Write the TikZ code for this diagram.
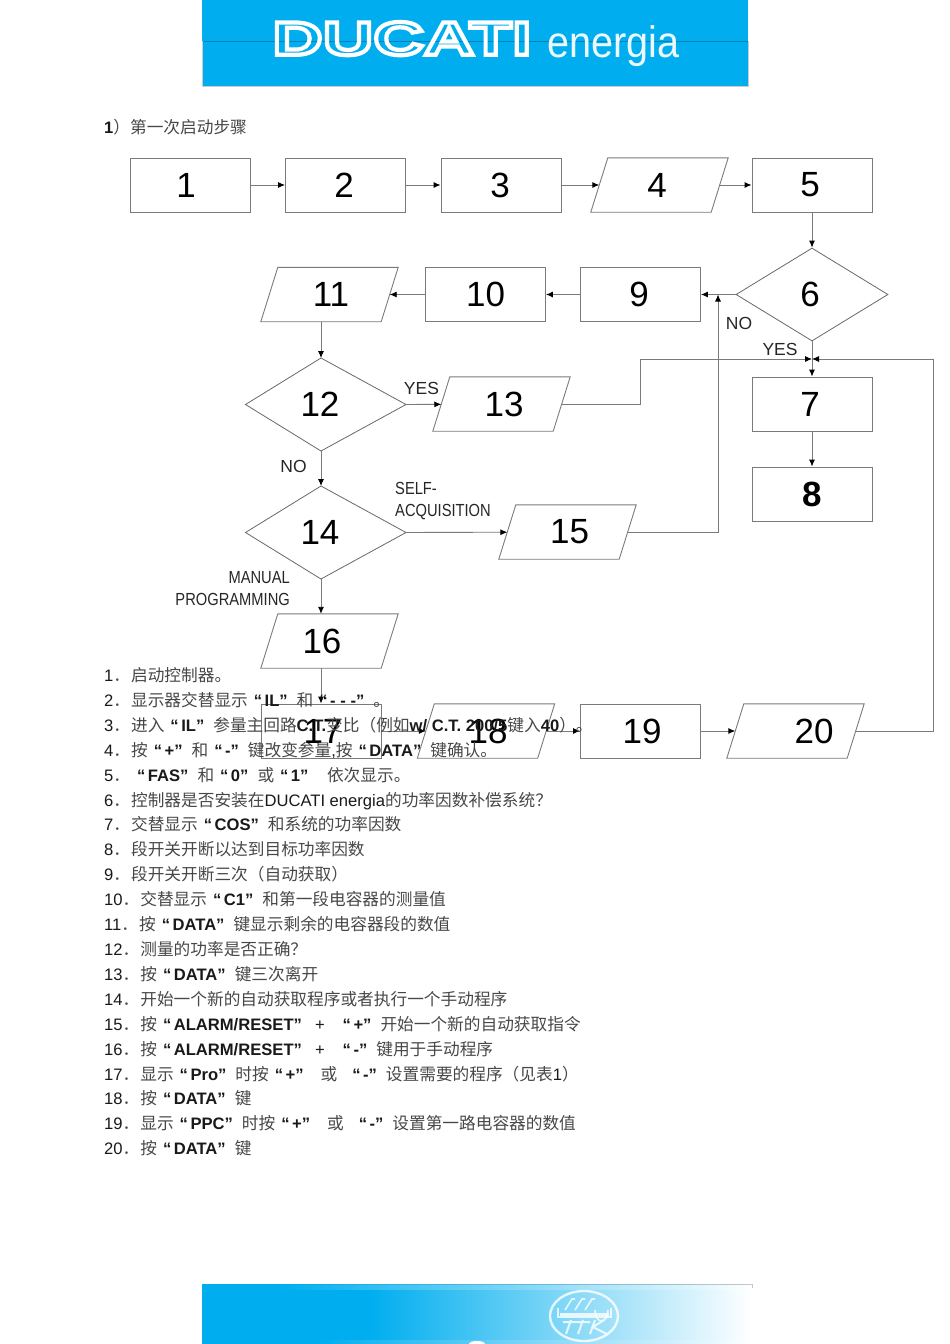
\documentclass[tikz,border=0pt]{standalone}
\usepackage{fontspec}
\usetikzlibrary{shapes.geometric,arrows.meta}
\setmainfont{Liberation Sans}
\newfontfamily\cjk{Noto Sans CJK SC}[Scale=1.005]
\newfontfamily\lgbold[FakeStretch=1.49]{Liberation Sans Bold}
\newfontfamily\lgreg[FakeStretch=0.9]{Liberation Sans}
\newfontfamily\nar[FakeStretch=0.84]{Liberation Sans}
\definecolor{duc}{HTML}{00AEEF}
\definecolor{ln}{HTML}{7A7A7A}
\newcommand{\C}[1]{{\cjk\color{black!72}#1}}
\newcommand{\B}[1]{\textbf{#1}}
\newcommand{\Q}[1]{\hspace{6pt}\textbf{“}\hspace{2.5pt}\textbf{#1”}\hspace{9pt}}
\newcommand{\N}[1]{#1\C{．}\hspace{1pt}}
\newcommand{\dg}[2]{\makebox[0pt]{\hspace*{#1}#2}}
\tikzset{
 x=1pt,y=-1pt,
 boxs/.style={draw=ln,line width=.9pt,minimum width=120pt,minimum height=54pt,inner sep=0pt,font=\fontsize{35}{35}\selectfont},
 para/.style={minimum width=120pt,minimum height=54pt,inner sep=0pt,font=\fontsize{35}{35}\selectfont,
  append after command={\pgfextra{\draw[draw=ln,line width=.9pt] ([xshift=-8.5pt]\tikzlastnode.south west) -- ([xshift=8.5pt]\tikzlastnode.north west) -- ([xshift=8.5pt]\tikzlastnode.north east) -- ([xshift=-8.5pt]\tikzlastnode.south east) -- cycle;}}},
 dia/.style={draw=ln!85!black,line width=.8pt,diamond,minimum width=152pt,minimum height=93pt,inner sep=0pt,font=\fontsize{35}{35}\selectfont},
 diaedge/.style={draw=ln!85!black,line width=.8pt},
 dtext/.style={inner sep=0pt,font=\fontsize{35}{35}\selectfont},
 con/.style={draw=ln,line width=.9pt,-{Latex[black,length=7pt,width=6pt]}},
 lab/.style={inner sep=0pt,text=black!85,font=\fontsize{17.5}{18}\selectfont},
 item/.style={anchor=base west,inner sep=0pt,font=\fontsize{16.6}{16.6}\selectfont,text=black!90},
}
\begin{document}
\begin{tikzpicture}
\useasboundingbox (0,0) rectangle (950,1344);
% header
\fill[duc] (202,0) rectangle (748,86);
\draw[black!25!duc,line width=.5pt] (202,41) -- (748,41);
\draw[black!20!white,line width=1pt] (202.5,41) -- (202.5,86) -- (748,86) -- (748,41);
\node[anchor=base west,inner sep=0,text=white] (logo) at (272,54.8) {\lgbold\fontsize{47}{47}\selectfont\special{pdf:code q 1 Tr 4.2 w 1 1 1 RG}DUCATI\special{pdf:code Q}};
\node[anchor=base west,inner sep=0,text=white!92!duc] (en) at (547,57) {\lgreg\fontsize{44}{44}\selectfont energia};
% footer
\fill[duc] (202,1284) rectangle (370,1344);
\shade[left color=duc,right color=white] (370,1284) rectangle (752,1344);
\shade[left color=duc,right color=black!22] (300,1284) rectangle (752,1285.5);
\shade[left color=duc,right color=white] (280,1285.5) rectangle (752,1289);
\shade[left color=duc,right color=white] (320,1340) rectangle (752,1344);
\draw[black!22,line width=.8pt] (752,1284) -- (752,1288);
\begin{scope}[white,opacity=.8,line width=2.4pt]
\draw (584,1316) ellipse (34 and 25);
\draw[line width=1.6pt] (558,1308) -- (558,1317) -- (611,1317) -- (611,1308);
\draw[line width=3pt] (560,1314) -- (609,1314);
\draw[line width=1.6pt] (565,1310) -- (572,1299) -- (575,1299) (575,1310) -- (582,1299) -- (585,1299) (585,1310) -- (592,1299) -- (595,1299) (595,1310) arc (180:0:6.5 and 11);
\draw[line width=2pt] (571,1320)--(566,1334) (563,1322)--(578,1322) (583,1320)--(578,1334) (575,1322)--(590,1322) (595,1320)--(590,1334) (604,1320)--(593,1327)--(607,1334);
\end{scope}
\fill[white] (477,1344) ellipse (8 and 3);
% title
\node[item] (ttl) at (104,133) {\B{1}\C{）第一次启动步骤}};
% flow nodes
\node[boxs] (n1) at (190.5,185) {\dg{-9pt}{1}};
\node[boxs] (n2) at (345.5,185) {\dg{-3pt}{2}};
\node[boxs] (n3) at (501,185) {\dg{-2pt}{3}};
\node[para] (n4) at (659.5,185) {\dg{-5pt}{4}};
\node[boxs] (n5) at (812,185) {\dg{-4pt}{5}};
\node[dia] (n6) at (812,294.5) {\dg{-4pt}{6}};
\node[boxs] (n9) at (640.5,294.5) {\dg{-3pt}{9}};
\node[boxs] (n10) at (485.5,294.5) {10};
\node[para] (n11) at (329.5,294.5) {\dg{3pt}{11}};
\coordinate (n12t) at (321,358);
\coordinate (n12b) at (321,451);
\coordinate (n12l) at (245.5,404.5);
\coordinate (n12r) at (406,404.5);
\draw[diaedge] (n12l) -- (n12t) -- (n12r) -- (n12b) -- cycle;
\node[dtext] (n12) at (320,404.5) {12};
\node[para] (n13) at (501.5,404) {\dg{5pt}{13}};
\node[boxs] (n7) at (812,404) {\dg{-4pt}{7}};
\node[boxs,font=\fontsize{35}{35}\bfseries\selectfont] (n8) at (812,494) {8};
\coordinate (n14t) at (321,486);
\coordinate (n14b) at (321,579);
\coordinate (n14l) at (245.5,532.5);
\coordinate (n14r) at (406,532.5);
\draw[diaedge] (n14l) -- (n14t) -- (n14r) -- (n14b) -- cycle;
\node[dtext] (n14) at (320,532) {14};
\node[para] (n15) at (567.5,532) {\dg{4pt}{15}};
\node[para] (n16) at (329.5,641) {\dg{-15pt}{16}};
\node[boxs] (n17) at (321,731) {\dg{4pt}{17}};
\node[para] (n18) at (486,731) {\dg{4pt}{18}};
\node[boxs] (n19) at (640.5,731) {\dg{3pt}{19}};
\node[para] (n20) at (795.5,731) {\dg{37pt}{20}};
\coordinate (j) at (812,359);
\coordinate (a) at (640.5,404);
\coordinate (b) at (640.5,359);
\coordinate (c) at (933,731);
\coordinate (d) at (933,359);
\coordinate (e) at (718,532);
\coordinate (f) at (718,294.5);
% connectors
\draw[con] (n1) -- (n2);
\draw[con] (n2) -- (n3);
\draw[con] (n3) -- (n4);
\draw[con] (n4) -- (n5);
\draw[con] (n5) -- (n6);
\draw[con] (n6) -- (n9);
\draw[con] (n9) -- (n10);
\draw[con] (n10) -- (n11);
\draw[con] (n11.south -| n12t) -- (n12t);
\draw[con] (n12r) -- (n13);
\draw[con] (n13) -- (a) -- (b) -- (j);
\draw[con] (n6) -- (n7);
\draw[con] (n7) -- (n8);
\draw[con] (n12b) -- (n14t);
\draw[con] (n14r) -- (n15);
\draw[con] (n15) -- (e) -- (f);
\draw[con] (n14b) -- (n16.north -| n14b);
\draw[con] (n16.south -| n17) -- (n17);
\draw[con] (n17) -- (n18);
\draw[con] (n18) -- (n19);
\draw[con] (n19) -- (n20);
\draw[con] (n20) -- (c) -- (d) -- (j);
% labels
\node[lab] (lno1) at (739,323) {NO};
\node[lab] (lyes1) at (780,349) {YES};
\node[lab] (lyes2) at (421.5,388) {YES};
\node[lab] (lno2) at (293.5,466) {NO};
\node[lab,anchor=base west] (ls1) at (395,494) {\nar SELF-};
\node[lab,anchor=base west] (ls2) at (395,516) {\nar ACQUISITION};
\node[lab,anchor=base east] (lm1) at (290,583) {\nar MANUAL};
\node[lab,anchor=base east] (lm2) at (290,605) {\nar PROGRAMMING};
% list
\node[item] (t1) at (104,681) {\N{1}\C{启动控制器。}};
\node[item] (t2) at (104,706) {\N{2}\C{显示器交替显示}\Q{IL}\C{和}\Q{- - -}\C{。}};
\node[item] (t3) at (104,731) {\N{3}\C{进入}\Q{IL}\C{参量主回路}\B{C.T.}\C{变比（例如}\B{w/ C.T. 200/5}\C{键入}\B{40}\C{）。}};
\node[item] (t4) at (104,756) {\N{4}\C{按}\Q{+}\C{和}\Q{-}\C{键改变参量},\C{按}\Q{DATA}\C{键确认。}};
\node[item] (t5) at (104,781) {\N{5}\Q{FAS}\C{和}\Q{0}\C{或}\Q{1}\hspace{9.5pt}\C{依次显示。}};
\node[item] (t6) at (104,806) {\N{6}\C{控制器是否安装在}DUCATI energia\C{的功率因数补偿系统？}};
\node[item] (t7) at (104,830) {\N{7}\C{交替显示}\Q{COS}\C{和系统的功率因数}};
\node[item] (t8) at (104,855) {\N{8}\C{段开关开断以达到目标功率因数}};
\node[item] (t9) at (104,880) {\N{9}\C{段开关开断三次（自动获取）}};
\node[item] (t10) at (104,905) {\N{10}\C{交替显示}\Q{C1}\C{和第一段电容器的测量值}};
\node[item] (t11) at (104,930) {\N{11}\C{按}\Q{DATA}\C{键显示剩余的电容器段的数值}};
\node[item] (t12) at (104,955) {\N{12}\C{测量的功率是否正确？}};
\node[item] (t13) at (104,980) {\N{13}\C{按}\Q{DATA}\C{键三次离开}};
\node[item] (t14) at (104,1005) {\N{14}\C{开始一个新的自动获取程序或者执行一个手动程序}};
\node[item] (t15) at (104,1030) {\N{15}\C{按}\Q{ALARM/RESET}\hspace{4pt}+\hspace{12pt}\Q{+}\C{开始一个新的自动获取指令}};
\node[item] (t16) at (104,1055) {\N{16}\C{按}\Q{ALARM/RESET}\hspace{4pt}+\hspace{12pt}\Q{-}\C{键用于手动程序}};
\node[item] (t17) at (104,1080) {\N{17}\C{显示}\Q{Pro}\C{时按}\Q{+}\hspace{8pt}\C{或}\hspace{9pt}\Q{-}\C{设置需要的程序（见表}1\C{）}};
\node[item] (t18) at (104,1104) {\N{18}\C{按}\Q{DATA}\C{键}};
\node[item] (t19) at (104,1129) {\N{19}\C{显示}\Q{PPC}\C{时按}\Q{+}\hspace{8pt}\C{或}\hspace{9pt}\Q{-}\C{设置第一路电容器的数值}};
\node[item] (t20) at (104,1154) {\N{20}\C{按}\Q{DATA}\C{键}};
\end{tikzpicture}
\end{document}
